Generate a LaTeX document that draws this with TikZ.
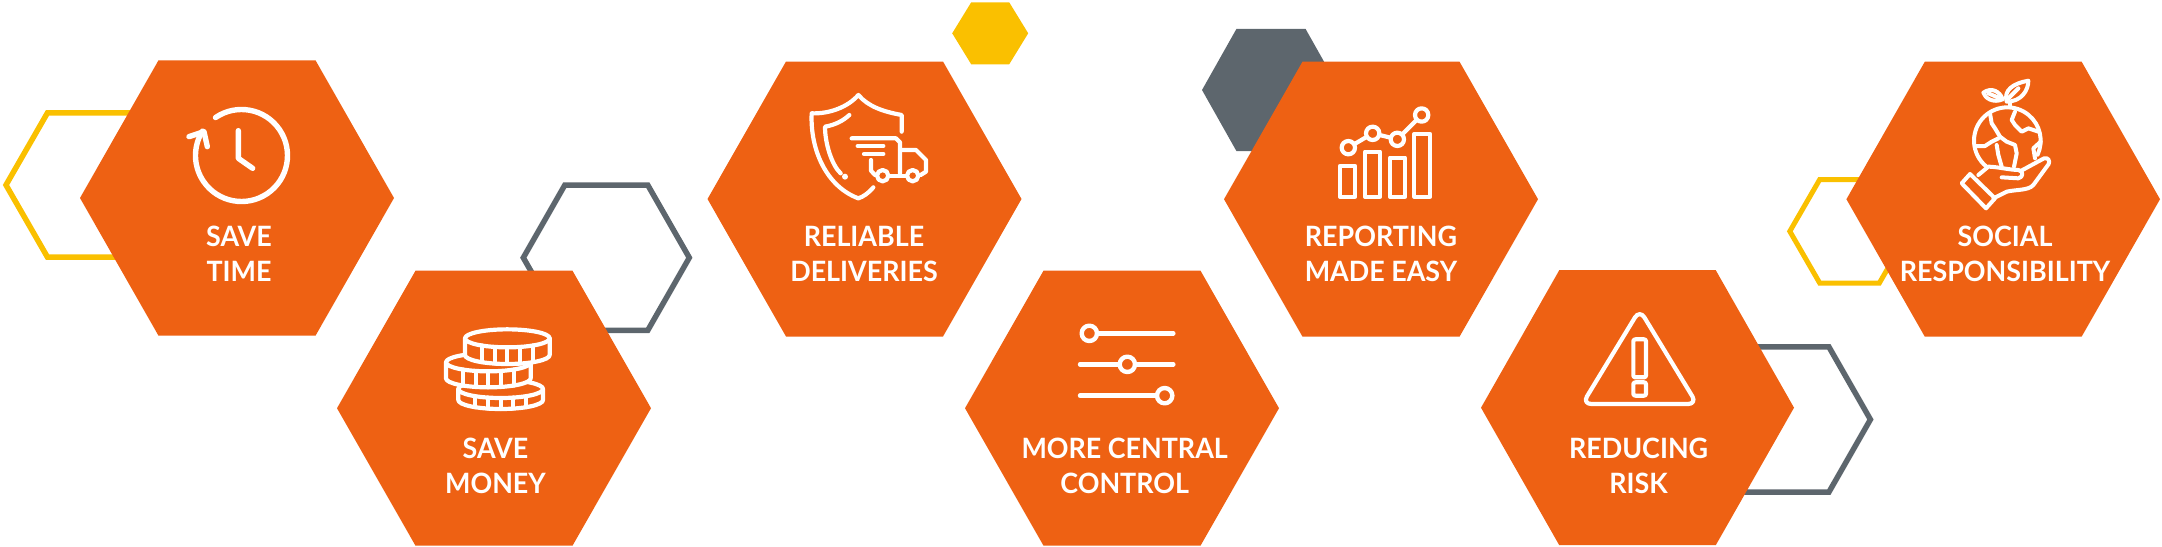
\documentclass[tikz,border=0pt]{standalone}
\usepackage{fontspec}
\newfontfamily\labelfont{Lato Bold}[FakeStretch=0.96]
\definecolor{hexorange}{HTML}{EE6113}
\definecolor{hexyellow}{HTML}{FAC000}
\definecolor{hexgrey}{HTML}{5D666D}
\newcommand\hexpath[4]{({#1-#3},{#2}) -- ({#1-#3/2},{#2-#4}) -- ({#1+#3/2},{#2-#4}) -- ({#1+#3},{#2}) -- ({#1+#3/2},{#2+#4}) -- ({#1-#3/2},{#2+#4}) -- cycle}
\newcommand\coinshape[3]{%
  \draw[fill=hexorange] ({#1-127},#2) -- ({#1-127},#3) arc[start angle=180,end angle=0,x radius=127,y radius=27] -- ({#1+127},#2) arc[start angle=0,end angle=-180,x radius=127,y radius=27] -- cycle;
  \draw ({#1-127},#2) arc[start angle=180,end angle=0,x radius=127,y radius=27];
  \foreach \dx in {-76,-38,0,38,76}{
    \pgfmathsetmacro\dy{27*sqrt(1-(\dx/127)^2)}
    \draw ({#1+\dx},{#2+\dy}) -- ({#1+\dx},{#3+\dy});
  }
}
\tikzset{
  bighex/.style={fill=hexorange,draw=none},
  yellowline/.style={draw=hexyellow,line width=5.5pt,miter limit=10},
  greyline/.style={draw=hexgrey,line width=5.5pt,miter limit=10},
  label/.style={font=\fontsize{28}{34.8}\selectfont\labelfont,text=white,align=center,inner sep=0pt},
  iconline/.style={draw=white,line width=4.2pt,line cap=round,line join=round},
  iconscope/.style={shift={(#1)},scale=0.33333,iconline}
}
\begin{document}
\begin{tikzpicture}[x=1pt,y=-1pt]
\useasboundingbox (0,0) rectangle (2162,546);
% accent hexagons
\draw[yellowline] \hexpath{89}{185}{83}{72.2};
\draw[greyline] \hexpath{606.3}{257.7}{83}{72.6};
\draw[yellowline,line width=5pt] \hexpath{1849.5}{231.3}{59.7}{51.7};
\draw[greyline] \hexpath{1787.4}{419.5}{83}{72.6};
\fill[hexyellow] \hexpath{990.2}{33.3}{38}{31};
\fill[hexgrey] \hexpath{1271}{90}{69}{61.2};
% main hexagons
\fill[bighex] \hexpath{237}{198}{157}{137.7};
\fill[bighex] \hexpath{494}{408.2}{157}{137.5};
\fill[bighex] \hexpath{864.5}{199}{157}{137.5};
\fill[bighex] \hexpath{1122}{408.2}{157}{137.5};
\fill[bighex] \hexpath{1381}{199.2}{157}{137.5};
\fill[bighex] \hexpath{1637.5}{407.7}{156.5}{137.5};
\fill[bighex] \hexpath{2003.2}{199.2}{156.8}{137.5};
% labels
\node[label] (savetime) at (239,254) {SAVE\\TIME};
\node[label] (savemoney) at (495.5,465.5) {SAVE\\MONEY};
\node[label] (reliable) at (864,254) {RELIABLE\\DELIVERIES};
\node[label] (central) at (1124.7,465.5) {MORE CENTRAL\\CONTROL};
\node[label] (reporting) at (1381,254) {REPORTING\\MADE EASY};
\node[label] (reducing) at (1638.6,465.5) {REDUCING\\RISK};
\node[label] (social) at (2005,254) {SOCIAL\\RESPONSIBILITY};
% clock
\begin{scope}[iconscope={170,90},line width=5.4pt]
  \draw (214.5,196.5) ++(-124.4:138) arc[start angle=-124.4,end angle=212,radius=138];
  \draw (57,140) -- (102,125) -- (112,170);
  \draw (205,122) -- (205,205) -- (248,235);
\end{scope}
% coins
\begin{scope}[iconscope={430,310}]
  \coinshape{212}{237}{270}
  \coinshape{175}{157}{205}
  \coinshape{232}{85}{135}
\end{scope}
% shield and truck
\begin{scope}[iconscope={790,80}]
  \draw (335,155) -- (335,105) .. controls (280,95) and (235,80) .. (205,45) .. controls (175,80) and (120,102) .. (65,100) .. controls (60,210) and (110,320) .. (205,355) .. controls (220,350) and (235,340) .. (250,322);
  \draw (178,105) .. controls (160,122) and (135,135) .. (105,140) .. controls (105,190) and (125,255) .. (152,280);
  \fill[white] (165,290) circle[radius=9];
  \draw (185,175) -- (318,175) -- (330,187) -- (330,280);
  \draw (203,198) -- (280,198);
  \draw (222,222) -- (280,222);
  \draw (243,240) -- (243,272) -- (255,285);
  \draw (330,210) -- (378,210) -- (408,240) -- (408,275) -- (392,285);
  \draw (295,287) -- (350,287);
  \draw (278,287) circle[radius=17];
  \draw (368,287) circle[radius=17];
\end{scope}
% sliders
\begin{scope}[iconscope={1060,320},line width=4.4pt]
  \draw (88,40) -- (340,40);
  \draw (60,133) -- (340,133);
  \draw (60,227) -- (314,227);
  \draw[fill=hexorange] (88,40) circle[radius=23];
  \draw[fill=hexorange] (202,133) circle[radius=23];
  \draw[fill=hexorange] (314,227) circle[radius=23];
\end{scope}
% chart
\begin{scope}[iconscope={1320,90}]
  \draw (85,173) -- (158,130) -- (232,148) -- (305,75);
  \draw[fill=hexorange] (85,173) circle[radius=20];
  \draw[fill=hexorange] (158,130) circle[radius=20];
  \draw[fill=hexorange] (232,148) circle[radius=20];
  \draw[fill=hexorange] (305,75) circle[radius=20];
  \draw (60,228) rectangle (105,320);
  \draw (135,185) rectangle (180,320);
  \draw (210,203) rectangle (255,320);
  \draw (283,132) rectangle (330,320);
\end{scope}
% warning
\begin{scope}[iconscope={1570,300}]
  \draw[rounded corners=9pt] (209,29) -- (381,312) -- (37,312) -- cycle;
  \draw[rounded corners=2pt] (190,118) rectangle (228,232);
  \draw[rounded corners=2pt] (190,247) rectangle (228,287);
\end{scope}
% globe in hand
\begin{scope}[iconscope={1950,70},line width=4pt]
  \draw (172,212) ++(130:100) arc[start angle=130,end angle=385,radius=100];
  \draw (120,130) -- (125,160) -- (135,175) -- (150,200) -- (170,215) -- (195,225) -- (200,250) -- (192,290);
  \draw (75,228) -- (105,228) -- (125,215) -- (145,205);
  \draw (140,225) -- (145,255) -- (155,290);
  \draw (195,125) -- (185,150) -- (195,165) -- (215,185) -- (235,175) -- (265,185);
  \draw (272,215) -- (250,235) -- (255,265);
  \draw (180,98) -- (180,112);
  \draw (170,95) .. controls (160,60) and (190,40) .. (235,32) .. controls (235,60) and (215,95) .. (170,95);
  \draw (175,85) -- (205,55);
  \draw (158,88) .. controls (130,100) and (105,85) .. (100,68) .. controls (125,50) and (150,65) .. (158,88);
  \draw (115,70) -- (150,85);
  \draw (60,312) -- (35,340) -- (108,415) -- (135,385) -- cycle;
  \draw (85,315) -- (115,290) .. controls (140,290) and (180,300) .. (205,300) .. controls (222,303) and (220,322) .. (205,325) -- (155,322);
  \draw (212,303) -- (282,265) .. controls (295,262) and (300,272) .. (296,282) -- (250,345) .. controls (235,362) and (200,358) .. (170,365) -- (130,385);
\end{scope}
\end{tikzpicture}
\end{document}
